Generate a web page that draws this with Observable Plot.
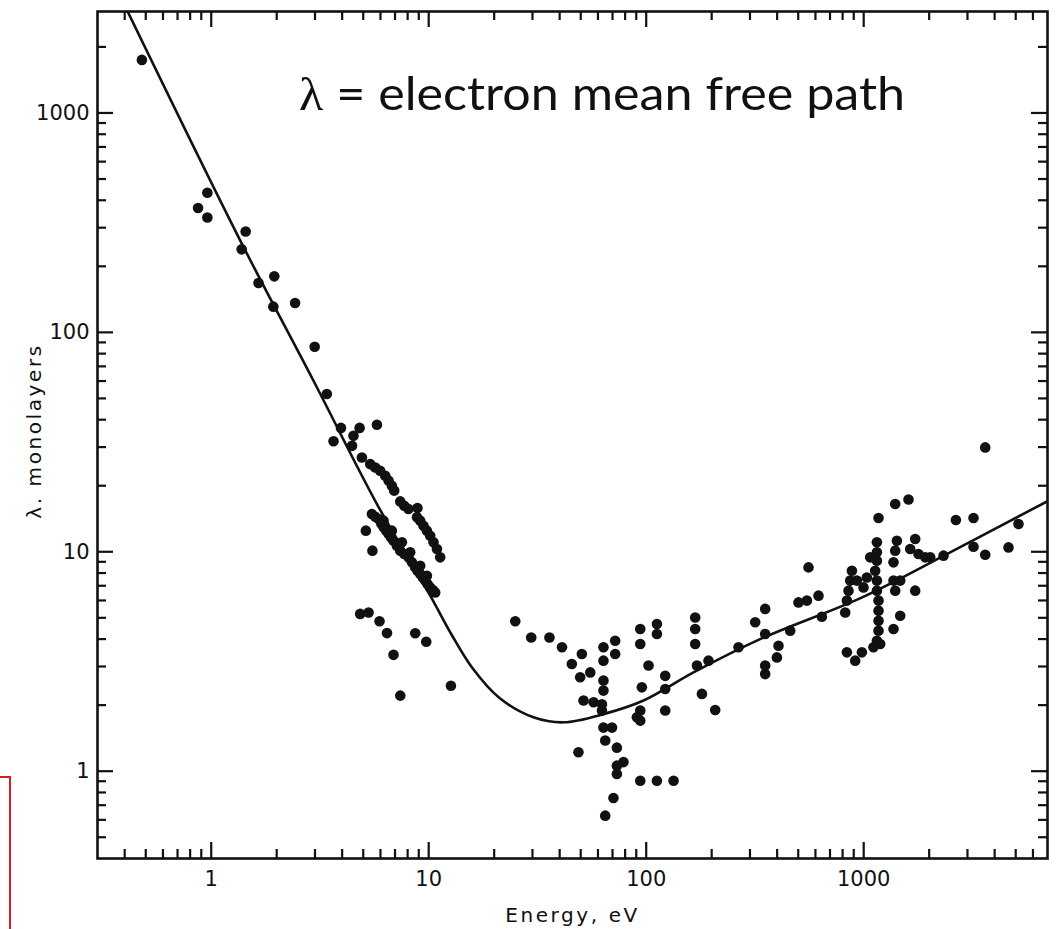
<!DOCTYPE html>
<html>
<head>
<meta charset="utf-8">
<script src="https://cdn.jsdelivr.net/npm/d3@7"></script>
<script src="https://cdn.jsdelivr.net/npm/@observablehq/plot@0.6"></script>
<style>
  body { margin: 0; background: #ffffff; }
  #wrap { position: relative; width: 1064px; height: 929px; overflow: hidden; background: #ffffff; }
  #wrap svg.overlay { position: absolute; left: 0; top: 0; pointer-events: none; }
  #redbox { position: absolute; left: -20px; top: 776px; width: 27px; height: 200px; border: 2px solid #e0191f; }
</style>
</head>
<body>
<div id="wrap">
  <div id="redbox"></div>
</div>
<script>
// ---- axis ticks ----
const xMajor = [1, 10, 100, 1000];
const xMinor = [0.4, 0.5, 0.6, 0.7, 0.8, 0.9, 2, 3, 4, 5, 6, 7, 8, 9, 20, 30, 40, 50, 60, 70, 80, 90,
                200, 300, 400, 500, 600, 700, 800, 900, 2000, 3000, 4000, 5000, 6000];
const yMajor = [1, 10, 100, 1000];
const yMinor = [0.5, 0.6, 0.7, 0.8, 0.9, 2, 3, 4, 5, 6, 7, 8, 9, 20, 30, 40, 50, 60, 70, 80, 90,
                200, 300, 400, 500, 600, 700, 800, 900, 2000];

// ---- universal curve (energy eV, lambda monolayers) ----
const curveE = [0.406, 1.36, 2.953, 5.78, 10.16, 12.69, 15.85, 21.1, 30.3, 41.7, 63.6, 97.2, 165, 334, 984, 2498, 7074];
const curveL = [3000, 262, 60.2, 16.5, 6.31, 4.22, 2.96, 2.16, 1.76, 1.67, 1.82, 2.10, 2.82, 4.00, 6.20, 9.94, 17.1];

// ---- measured points [energy eV, lambda monolayers] ----
const steepPoints = [[0.48,1745],[0.96,433],[0.87,369],[0.96,334],[1.44,288],[1.38,239],[1.65,168],[1.95,180],
  [1.93,131],[2.43,136],[2.99,86],[3.40,52.4],[3.95,36.7],[3.65,31.9],[4.81,36.7],[5.78,37.9],[4.51,33.8],[4.44,30.4]];
const upperBand = [[4.93,26.9],[5.38,25.1],[5.68,24.2],[5.98,23.4],[6.31,22.2],[6.54,21.1],[6.77,20.0],[6.94,19.0],
  [7.40,16.97],[7.72,16.2],[8.07,15.67],[8.88,15.83],[8.83,14.36],[9.14,13.86],[9.46,13.15],[9.81,12.48],
  [10.16,11.84],[10.52,11.04],[10.91,10.30],[11.29,9.43]];
const lowerBand = [[5.48,14.87],[5.68,14.45],[5.88,14.11],[6.05,13.47],[6.20,12.92],[6.38,12.48],[6.54,12.05],
  [6.72,11.63],[6.89,11.23],[7.14,10.66],[7.40,10.12],[7.72,9.77],[8.07,9.43],[8.37,8.95],[8.67,8.49],[8.88,8.20],
  [9.14,7.92],[9.40,7.64],[9.64,7.39],[9.87,7.13],[10.16,6.88],[10.45,6.70],[10.71,6.53],
  [6.20,13.86],[6.77,12.48],[7.53,11.04],[8.22,9.94],[9.14,8.64],[9.81,7.78],[5.14,12.48],[5.51,10.12]];
const lowScatter = [[4.84,5.21],[5.29,5.29],[5.94,4.82],[6.43,4.26],[8.67,4.25],[9.74,3.89],[6.89,3.39],[7.40,2.21],[12.65,2.45]];
const minimumCluster = [[25.0,4.82],[29.6,4.07],[35.9,4.07],[41.0,3.67],[50.6,3.42],[45.5,3.08],[49.7,2.68],[55.3,2.82],
  [63.6,3.67],[63.6,3.19],[72.0,3.93],[72.0,3.42],[63.6,2.59],[63.6,2.33],[51.5,2.10],[57.3,2.06],[62.6,2.02],[62.6,1.89],
  [93.9,4.45],[112,4.69],[112,4.22],[93.9,3.80],[102.5,3.03],[95.5,2.41],[93.9,1.89],[93.9,1.70],[90.6,1.76],
  [122.3,2.72],[122.3,2.37],[122.3,1.89],[168,5.02],[168,4.45],[168,3.80],[171.1,3.03],[193.4,3.19],[180.4,2.25],[207.6,1.90],
  [63.6,1.58],[69.6,1.58],[64.8,1.38],[73.3,1.28],[48.8,1.22],[78.6,1.10],[73.3,1.06],[73.3,0.971],
  [93.9,0.905],[112,0.905],[133.6,0.905],[70.7,0.755],[64.8,0.627]];
const highCluster = [[265.7,3.67],[352.4,5.49],[317,4.77],[352.4,4.22],[405.8,3.73],[399,3.30],[352.4,3.03],[352.4,2.77],[459.3,4.37],
  [501.4,5.88],[548.2,5.99],[557.5,8.49],[619.6,6.31],[642.3,5.06],
  [3620,29.9],[1396,16.5],[1607,17.3],[1170,14.26],[2654,13.96],[3198,14.26],[5149,13.39],[3198,10.55],[3620,9.70],
  [4632,10.47],[2328,9.60],[2022,9.43],
  [1150,11.04],[1150,9.94],[1150,9.11],[1129,8.20],[1150,7.39],[1150,6.65],[1170,5.99],[1170,5.39],[1170,4.85],[1170,4.37],
  [1150,3.93],[1191,3.80],[1421,11.23],[1396,10.12],[1371,8.95],[1725,11.43],[1636,10.30],[1786,9.77],[1918,9.43],
  [882.6,8.20],[866.8,7.39],[851.4,6.65],[837.1,5.99],[822.2,5.29],[930.5,7.39],[997.9,6.88],[1034,7.64],
  [1371,7.39],[1472,7.39],[1396,6.65],[1725,6.65],[1472,5.11],[1371,4.45],
  [837.1,3.48],[914,3.19],[981,3.48],[1109,3.67],[1071,9.43]];

const xLabel = "Energy, eV";
const yLabel = "λ. monolayers";
const titleSymbol = "λ";
const titleRest = " = electron mean free path";

// ---- build ----
const curve = curveE.map((e, i) => ({E: e, L: curveL[i]}));
const points = [...steepPoints, ...upperBand, ...lowerBand, ...lowScatter, ...minimumCluster, ...highCluster]
  .map(([e, l]) => ({E: e, L: l}));

const W = 1064, H = 929, mL = 97, mR = 17, mT = 11, mB = 71;
const innerW = W - mL - mR, innerH = H - mT - mB;
const majorLen = 16, minorLen = 9;
const ink = "#111";

const plot = Plot.plot({
  width: W, height: H,
  marginLeft: mL, marginRight: mR, marginTop: mT, marginBottom: mB,
  style: {fontFamily: "'DejaVu Sans', Verdana, sans-serif", fontSize: "20px", color: ink, background: "transparent"},
  x: {type: "log", domain: [0.3, 7000]},
  y: {type: "log", domain: [0.4, 2900]},
  marks: [
    // inward ticks on all four sides
    Plot.ruleX(xMajor, {x: d => d, insetTop: innerH - majorLen, stroke: ink, strokeWidth: 2.2}),
    Plot.ruleX(xMinor, {x: d => d, insetTop: innerH - minorLen, stroke: ink, strokeWidth: 2.2}),
    Plot.ruleX(xMajor, {x: d => d, insetBottom: innerH - majorLen, stroke: ink, strokeWidth: 2.2}),
    Plot.ruleX(xMinor, {x: d => d, insetBottom: innerH - minorLen, stroke: ink, strokeWidth: 2.2}),
    Plot.ruleY(yMajor, {y: d => d, insetRight: innerW - majorLen, stroke: ink, strokeWidth: 2.2}),
    Plot.ruleY(yMinor, {y: d => d, insetRight: innerW - minorLen, stroke: ink, strokeWidth: 2.2}),
    Plot.ruleY(yMajor, {y: d => d, insetLeft: innerW - majorLen, stroke: ink, strokeWidth: 2.2}),
    Plot.ruleY(yMinor, {y: d => d, insetLeft: innerW - minorLen, stroke: ink, strokeWidth: 2.2}),
    Plot.axisX({ticks: xMajor, tickSize: 0, tickPadding: 13, tickFormat: d => String(d), label: null, fontSize: 21, fill: ink}),
    Plot.axisY({ticks: yMajor, tickSize: 0, tickPadding: 8, tickFormat: d => String(d), label: null, fontSize: 21, fill: ink}),
    Plot.frame({stroke: ink, strokeWidth: 2.6}),
    Plot.line(curve, {x: "E", y: "L", curve: "catmull-rom", stroke: ink, strokeWidth: 2.6, clip: true}),
    Plot.dot(points, {x: "E", y: "L", r: 5.3, fill: ink, stroke: "none"}),
    Plot.text([xLabel], {frameAnchor: "bottom", textAnchor: "middle", dy: 63, lineAnchor: "bottom", fontSize: 20, fill: ink}),
    Plot.text([yLabel], {frameAnchor: "left", textAnchor: "middle", dx: -63, dy: -4, rotate: -90, fontSize: 20, fill: ink})
  ]
});

plot.querySelectorAll('g[aria-label="text"] text').forEach(t => t.setAttribute("letter-spacing", "2.6"));

const wrap = document.getElementById("wrap");
wrap.insertBefore(plot, wrap.firstChild);

// title overlay
const ns = "http://www.w3.org/2000/svg";
const ov = document.createElementNS(ns, "svg");
ov.setAttribute("class", "overlay");
ov.setAttribute("width", W);
ov.setAttribute("height", 160);
const t = document.createElementNS(ns, "text");
t.setAttribute("x", 299);
t.setAttribute("y", 110);
t.setAttribute("font-family", "Lato, 'Open Sans', sans-serif");
t.setAttribute("font-size", 46);
t.setAttribute("fill", ink);
t.setAttribute("textLength", 606);
t.setAttribute("lengthAdjust", "spacingAndGlyphs");
const s1 = document.createElementNS(ns, "tspan");
s1.setAttribute("font-family", "'Liberation Serif', 'DejaVu Serif', serif");
s1.textContent = titleSymbol;
const s2 = document.createElementNS(ns, "tspan");
s2.textContent = titleRest;
t.appendChild(s1); t.appendChild(s2);
ov.appendChild(t);
wrap.appendChild(ov);
</script>
</body>
</html>
